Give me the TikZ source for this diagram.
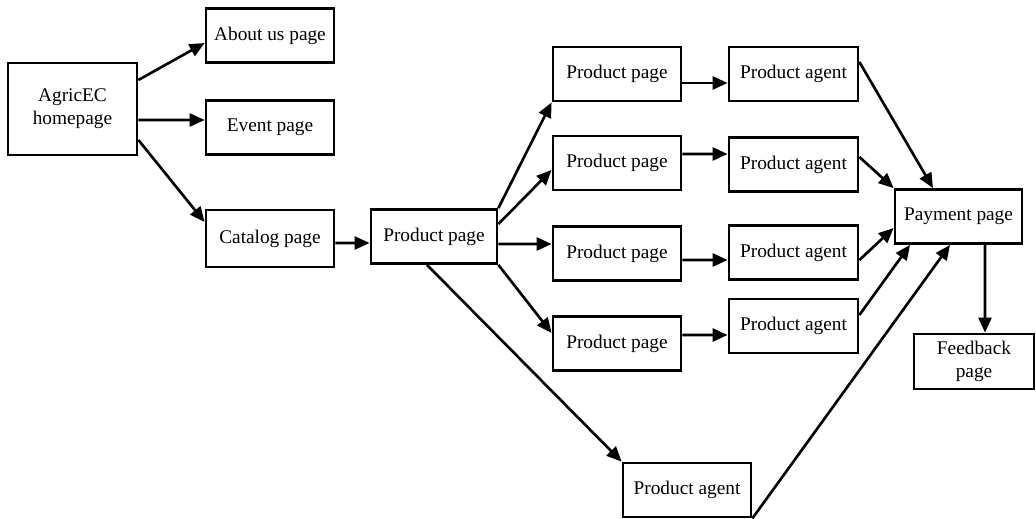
\documentclass[tikz,border=0pt]{standalone}
\usepackage{fontspec}
\setmainfont{Liberation Serif}
\usetikzlibrary{arrows.meta}
\tikzstyle{page}  = [rectangle, draw=black, line width=1.6pt, inner sep=0pt, minimum width=2.56cm, minimum height=1.08cm, align=center, font=\fontsize{11}{13}\selectfont]
\tikzstyle{link}  = [line width=1.5pt, -{Triangle[length=0.3cm,width=0.26cm]}]

\begin{document}
\begin{tikzpicture}[x=0.02cm,y=-0.02cm]
		\useasboundingbox (0,0) rectangle (1036,519);

		% left column
		\node[page, minimum width=2.58cm, minimum height=1.84cm] (home) at (72.5,109) {AgricEC\\homepage};
		\node[page] (about)   at (270,35.5)  {About us page};
		\node[page] (event)   at (270,127.5) {Event page};
		\node[page, minimum height=1.14cm] (catalog) at (270,238.5) {Catalog page};

		% product pages
		\node[page, minimum width=2.52cm] (prod) at (434,236.5) {Product page};
		\node[page] (pp1) at (617,74)    {Product page};
		\node[page] (pp2) at (617,163)   {Product page};
		\node[page] (pp3) at (617,253.5) {Product page};
		\node[page] (pp4) at (617,343.5) {Product page};

		% agents
		\node[page, minimum width=2.58cm] (pa1) at (793.5,74)    {Product agent};
		\node[page, minimum width=2.58cm] (pa2) at (793.5,164.5) {Product agent};
		\node[page, minimum width=2.58cm] (pa3) at (793.5,252.5) {Product agent};
		\node[page, minimum width=2.58cm] (pa4) at (793.5,326)   {Product agent};
		\node[page] (agent) at (687,490) {Product agent};

		% payment
		\node[page, minimum width=2.54cm] (pay) at (958.5,216.5) {Payment page};
		\node[page, minimum width=2.4cm, minimum height=1.1cm] (feed) at (974,361.5) {Feedback\\page};

		\draw[link] ([yshift=0.58cm]home.east) -- ([yshift=-0.15cm]about.west);
		\draw[link] ([yshift=-0.22cm]home.east) -- ([yshift=0.15cm]event.west);
		\draw[link] ([yshift=-0.62cm]home.east) -- ([yshift=0.33cm]catalog.west);
		\draw[link] ([yshift=-0.09cm]catalog.east) -- ([yshift=-0.13cm]prod.west);

		\draw[link] (prod.north east) -- (pp1.south west);
		\draw[link] ([yshift=0.25cm]prod.east) -- ([yshift=-0.14cm]pp2.west);
		\draw[link] ([yshift=-0.15cm]prod.east) -- ([yshift=0.19cm]pp3.west);
		\draw[link] (prod.south east) -- ([yshift=0.21cm]pp4.west);
		\draw[link] ([xshift=-0.14cm]prod.south) -- (agent.north west);

		\draw[link] ([yshift=-0.18cm]pp1.east) -- ([yshift=-0.18cm]pa1.west);
		\draw[link] ([yshift=0.18cm]pp2.east) -- ([yshift=0.21cm]pa2.west);
		\draw[link] ([yshift=-0.13cm]pp3.east) -- ([yshift=-0.15cm]pa3.west);
		\draw[link] ([yshift=0.17cm]pp4.east) -- ([yshift=-0.18cm]pa4.west);

		\draw[link] ([yshift=0.24cm]pa1.east) -- ([xshift=-0.51cm]pay.north);
		\draw[link] ([yshift=0.15cm]pa2.east) -- (pay.north west);
		\draw[link] ([yshift=-0.15cm]pa3.east) -- ([yshift=-0.23cm]pay.west);
		\draw[link] ([yshift=0.22cm]pa4.east) -- ([xshift=-0.97cm]pay.south);
		\draw[link] (agent.south east) -- ([xshift=-0.17cm]pay.south);
		\draw[link] ([xshift=0.53cm]pay.south) -- ([xshift=0.22cm]feed.north);
	\end{tikzpicture}
\end{document}
